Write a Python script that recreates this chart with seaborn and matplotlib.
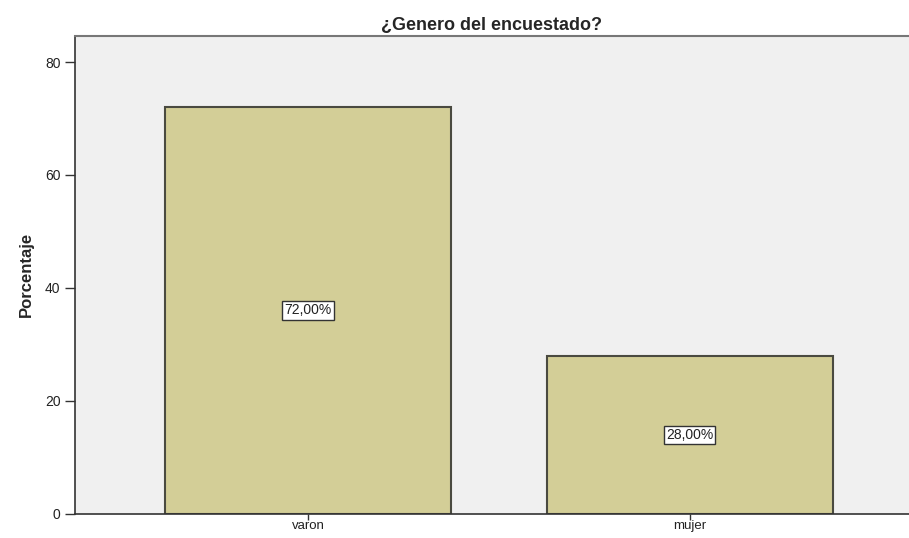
import numpy as np
import pandas as pd
import matplotlib
matplotlib.use('Agg')
import matplotlib.pyplot as plt
import seaborn as sns

categorias = ['varon', 'mujer']
porcentajes = [72.0, 28.0]

df = pd.DataFrame({'Genero': categorias, 'Porcentaje': porcentajes})

sns.set_style('white')
plt.rcParams['font.family'] = ['Liberation Sans', 'DejaVu Sans']

fig = plt.figure(figsize=(9.09, 5.38), dpi=100)
ax = fig.add_axes([0.0825, 0.045, 0.9175, 0.888])
ax.set_facecolor('#f0f0f0')

sns.barplot(data=df, x='Genero', y='Porcentaje', color='#d3ce97', width=0.75,
            edgecolor='#4a4a40', linewidth=1.5, saturation=1, ax=ax)

for i, v in enumerate(porcentajes):
    ax.text(i, v / 2, f'{v:.2f}%'.replace('.', ','), ha='center', va='center',
            fontsize=10, color='#222222',
            bbox=dict(boxstyle='square,pad=0.15', fc='white', ec='#333333', lw=1))

ax.set_xlim(-0.611, 1.575)
ax.set_ylim(0, 84.6)
ax.set_yticks([0, 20, 40, 60, 80])
ax.tick_params(axis='y', length=7, width=1, color='#333333', labelsize=10,
               labelcolor='#222222', direction='out', left=True)
ax.tick_params(axis='x', length=4, width=1, color='#333333', labelsize=9.5,
               labelcolor='#222222', direction='out', bottom=True, pad=0.5)
ax.set_xlabel('')
ax.set_ylabel('Porcentaje', fontsize=12, fontweight='bold', labelpad=8)
ax.set_title('¿Genero del encuestado?', fontsize=13, fontweight='bold', pad=4)
for s in ['left', 'bottom']:
    ax.spines[s].set_color('#333333')
    ax.spines[s].set_linewidth(1.2)
ax.spines['top'].set_color('#777777')
ax.spines['top'].set_linewidth(1.5)
ax.spines['right'].set_visible(False)

fig.savefig('out.png', dpi=100)
